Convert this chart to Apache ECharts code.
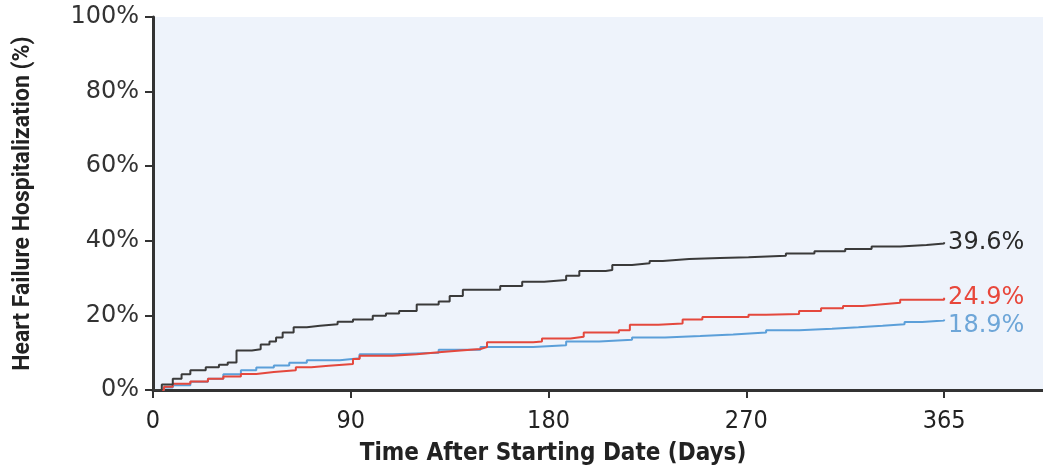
<!DOCTYPE html>
<html>
<head>
<meta charset="utf-8">
<script src="https://cdn.jsdelivr.net/npm/echarts@6/dist/echarts.min.js"></script>
<style>
  html, body { margin: 0; padding: 0; background: #fff; }
  #chart { width: 1043px; height: 471px; }
</style>
</head>
<body>
<div id="chart"></div>
<script>
// x positions are in axis units; the last tick (360) carries the "365" label
const xTicks = [0, 90, 180, 270, 360];
const xTickLabels = ['0', '90', '180', '270', '365'];

const blackDays = [0, 4, 9, 13, 17, 24, 30, 34, 38, 45, 49, 53, 56, 59, 64, 70, 76, 84, 91, 100, 106, 112, 120, 130, 135, 141, 158, 168, 178, 188, 194, 206, 209, 218, 226, 232, 244, 258, 271, 288, 301, 315, 327, 340, 352, 360];
const blackVals = [0, 1.5, 3.0, 4.2, 5.3, 6.1, 6.8, 7.4, 10.6, 10.9, 12.2, 13.0, 14.1, 15.4, 16.8, 17.2, 17.6, 18.3, 18.9, 19.9, 20.5, 21.2, 22.9, 23.7, 25.2, 26.9, 27.9, 29.0, 29.5, 30.6, 31.9, 32.2, 33.5, 34.0, 34.6, 35.1, 35.4, 35.6, 36.0, 36.6, 37.2, 37.8, 38.5, 38.9, 39.3, 39.6];

const redDays = [0, 5, 9, 17, 25, 32, 40, 47, 55, 65, 72, 80, 91, 94, 109, 120, 130, 140, 149, 152, 173, 177, 190, 196, 212, 217, 230, 241, 250, 271, 279, 294, 304, 314, 323, 332, 340, 360];
const redVals = [0, 0.9, 1.7, 2.3, 3.0, 3.6, 4.3, 4.8, 5.3, 6.1, 6.5, 7.0, 8.3, 9.2, 9.6, 10.1, 10.6, 11.0, 11.5, 12.8, 13.0, 13.8, 14.3, 15.4, 16.0, 17.5, 17.8, 18.9, 19.6, 20.2, 20.4, 21.2, 21.9, 22.5, 23.0, 23.4, 24.2, 24.7];

const blueDays = [0, 5, 9, 17, 25, 32, 40, 47, 55, 62, 70, 85, 94, 109, 130, 149, 173, 188, 203, 218, 233, 249, 264, 279, 294, 309, 321, 332, 342, 350, 360];
const blueVals = [0, 0.7, 1.3, 2.2, 3.0, 4.2, 5.3, 6.0, 6.6, 7.3, 8.0, 8.5, 9.6, 10.0, 10.8, 11.5, 12.0, 13.0, 13.5, 14.1, 14.5, 14.9, 15.4, 16.0, 16.4, 16.8, 17.2, 17.6, 18.2, 18.6, 18.9];

const endLabels = { black: '39.6%', red: '24.9%', blue: '18.9%' };

const zip = (xs, ys) => xs.map((x, i) => [x, ys[i]]);

const chart = echarts.init(document.getElementById('chart'));

function kmSeries(name, days, vals, lineColor, labelColor, labelShift) {
    return {
        name: name,
        type: 'line',
        step: 'end',
        symbol: 'none',
        animation: false,
        lineStyle: { color: lineColor, width: 2 },
        data: zip(days, vals),
        endLabel: {
            show: true,
            formatter: endLabels[name],
            color: labelColor,
            fontFamily: 'DejaVu Sans',
            fontSize: 24,
            distance: 4,
            offset: [0, labelShift]
        }
    };
}

const option = {
    backgroundColor: '#fff',
    grid: {
        left: 153, right: 0, top: 17, bottom: 78,
        show: true,
        backgroundColor: '#eef3fb',
        borderWidth: 0
    },
    xAxis: {
        type: 'value',
        min: 0,
        max: 405,
        name: 'Time After Starting Date (Days)',
        nameLocation: 'middle',
        nameGap: 52,
        nameTextStyle: {
            fontFamily: "'DejaVu Sans Condensed', Roboto",
            fontWeight: 'bold',
            fontSize: 24,
            color: '#222',
            padding: [0, 90, 0, 0]
        },
        splitLine: { show: false },
        axisLine: { lineStyle: { color: '#333', width: 3 } },
        axisTick: { customValues: xTicks, length: 8, lineStyle: { color: '#333', width: 2 } },
        axisLabel: {
            customValues: xTicks,
            formatter: v => xTickLabels[xTicks.indexOf(v)],
            fontFamily: "'DejaVu Sans Condensed', Roboto",
            fontSize: 25,
            color: '#222',
            margin: 19
        }
    },
    yAxis: {
        type: 'value',
        min: 0,
        max: 100,
        interval: 20,
        name: 'Heart Failure Hospitalization (%)',
        nameLocation: 'middle',
        nameGap: 118,
        nameTextStyle: {
            fontFamily: 'Roboto',
            fontWeight: 'bold',
            fontSize: 23,
            color: '#222'
        },
        splitLine: { show: false },
        axisLine: { show: true, lineStyle: { color: '#333', width: 3 } },
        axisTick: { show: true, length: 8, lineStyle: { color: '#333', width: 2 } },
        axisLabel: {
            formatter: '{value}%',
            fontFamily: 'DejaVu Sans',
            fontSize: 24,
            color: '#333',
            margin: 14
        }
    },
    series: [
        kmSeries('blue', blueDays, blueVals, '#5b9fd9', '#6ea6d8', 6),
        kmSeries('red', redDays, redVals, '#e4483d', '#e8473b', 0),
        kmSeries('black', blackDays, blackVals, '#3a3a3a', '#2a2a2a', 0)
    ]
};

chart.setOption(option);
</script>
</body>
</html>
